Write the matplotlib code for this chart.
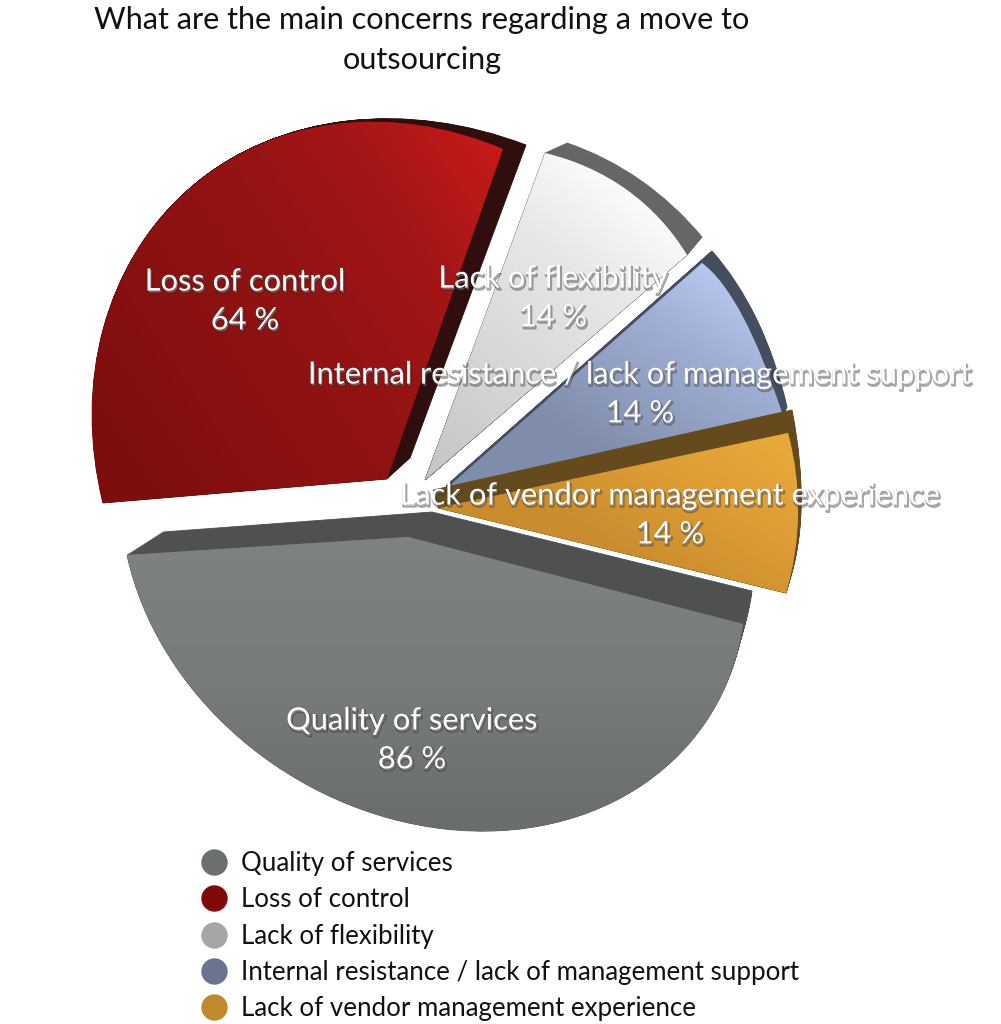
import numpy as np
import matplotlib
matplotlib.use("Agg")
import matplotlib.pyplot as plt
import matplotlib.patheffects as pe
from matplotlib.lines import Line2D
from matplotlib.transforms import Transform
from matplotlib.colors import to_rgb

plt.rcParams['font.family'] = ['Lato', 'DejaVu Sans']

title = "What are the main concerns regarding a move to\noutsourcing"
categories = ["Quality of services", "Loss of control", "Lack of flexibility",
              "Internal resistance / lack of management support",
              "Lack of vendor management experience"]
values = [86, 64, 14, 14, 14]
legend_colors = ['#6b6f6d', '#7f0a08', '#a6a6a6', '#6a7390', '#bf8a2b']
side_colors = ['#4e514f', '#300e0e', '#666666', '#454e5e', '#654a1e']

# layout: apex, arc start, arc middle, arc end in image pixels
face_geo = [
    ((408, 537), (743, 624), (445, 829), (127, 555)),
    ((387, 479), (103, 503), (188, 190), (503, 149)),
    ((425, 480), (545, 153), (627, 190), (687, 255)),
    ((447, 488), (702, 263), (743, 317), (783, 416)),
    ((438, 508), (788, 433), (798, 513), (786, 593)),
]
side_geo = [
    ((432, 512), (752, 591), (465, 800), (163, 532)),
    ((410, 458), (120, 480), (197, 183), (526, 145)),
    ((427, 478), (567, 143), (640, 180), (702, 237)),
    ((446, 486), (712, 251), (757, 320), (787, 407)),
    ((433, 490), (792, 410), (801, 510), (786, 590)),
]
gradients = [
    ((420, 540), (420, 830), ['#7e8381', '#777c7a', '#696d6b']),
    ((100, 420), (510, 150), ['#7e0e0e', '#8a1111', '#931313', '#a51616', '#c81a1a']),
    ((425, 480), (640, 200), ['#c4c4c4', '#d0d0d0', '#dcdcdc', '#e8e8e8', '#fbfbfb']),
    ((590, 450), (710, 265), ['#7f8cab', '#909ec0', '#a0afd4', '#b8c8f0']),
    ((690, 600), (790, 433), ['#c98c2e', '#dd9c35', '#eaab3c']),
]
label_pos = [(412, 740), (245, 301), (553, 298), (640, 394), (670, 515)]

START = -11
fig = plt.figure(figsize=(10.01, 10.24), dpi=100)
ax = fig.add_axes([0, 0, 1, 1])

edges = START - np.concatenate([[0], np.cumsum(values)]) / np.sum(values) * 360


class SliceWarp(Transform):
    """Maps a unit pie wedge: the apex to A, the rim onto an ellipse arc."""
    input_dims = output_dims = 2
    is_affine = False
    has_inverse = False

    def __init__(self, A, C, M):
        super().__init__()
        self.A, self.C, self.M = A, C, M

    def transform_non_affine(self, v):
        v = np.asarray(v, float)
        out = self.C + v @ self.M.T
        out[np.hypot(v[:, 0], v[:, 1]) < 1e-6] = self.A
        return out


def fit(geo, a0, a1):
    apex, p0, pm, p1 = [np.array(p, float) for p in geo]
    ang = np.radians([a0, (a0 + a1) / 2, a1])
    u = np.c_[np.cos(ang), np.sin(ang), np.ones(3)]
    sol = np.linalg.solve(u, np.vstack([p0, pm, p1]))
    return apex, sol[2], sol[:2].T


fits_f = [fit(g, edges[i], edges[i + 1]) for i, g in enumerate(face_geo)]
fits_s = [fit(g, edges[i], edges[i + 1]) for i, g in enumerate(side_geo)]

# extruded side: the pie drawn repeatedly between the back and front positions
for t in np.linspace(0, 1, 24):
    wedges, _ = ax.pie(values, startangle=START, counterclock=False, radius=1,
                       colors=side_colors, wedgeprops=dict(linewidth=0.6))
    for i, w in enumerate(wedges):
        A, C, M = [(1 - t) * s + t * f for s, f in zip(fits_s[i], fits_f[i])]
        w.set_transform(SliceWarp(A, C, M) + ax.transData)
        w.set_edgecolor(side_colors[i])
        w.set_zorder(2 + 2 * i)

faces, _ = ax.pie(values, startangle=START, counterclock=False, radius=1,
                  colors=legend_colors)
for i, w in enumerate(faces):
    warp = SliceWarp(*fits_f[i])
    w.set_transform(warp + ax.transData)
    w.set_zorder(3 + 2 * i)
    pts = warp.transform_non_affine(w.get_path().vertices)
    x0, y0 = pts.min(axis=0) - 2
    x1, y1 = pts.max(axis=0) + 2
    X, Y = np.meshgrid(np.linspace(x0, x1, 200), np.linspace(y0, y1, 200))
    P0, P1, stops = gradients[i]
    dx, dy = P1[0] - P0[0], P1[1] - P0[1]
    T = np.clip(((X - P0[0]) * dx + (Y - P0[1]) * dy) / (dx * dx + dy * dy), 0, 1)
    rgb = np.array([to_rgb(c) for c in stops])
    s = np.linspace(0, 1, len(stops))
    img = np.dstack([np.interp(T, s, rgb[:, k]) for k in range(3)])
    im = ax.imshow(img, extent=(x0, x1, y1, y0), origin='upper', aspect='auto',
                   interpolation='bilinear', zorder=3 + 2 * i)
    im.set_clip_path(w)

ax.set_xlim(0, 1001)
ax.set_ylim(1024, 0)
ax.set_aspect('auto')
ax.axis('off')

shadow = [pe.Stroke(linewidth=1.6, foreground='#202020', alpha=0.4, offset=(0.8, -1.4)),
          pe.Normal()]
for name, v, (x, y) in zip(categories, values, label_pos):
    ax.text(x, y, f"{name}\n{v} %", color='white', fontsize=22.2, ha='center', va='center',
            linespacing=1.47, zorder=50, path_effects=shadow)

ax.text(422, 40, title, color='#111111', fontsize=22.1, ha='center', va='center',
        linespacing=1.5, zorder=50)

handles = [Line2D([], [], linestyle='none', marker='o', markersize=19,
                  markerfacecolor=c, markeredgecolor='none') for c in legend_colors]
leg = ax.legend(handles, categories, loc='upper left', bbox_to_anchor=(200 / 1001, 1 - 851 / 1024),
                frameon=False, fontsize=18.6, labelspacing=0.44, handlelength=1.1,
                handletextpad=0.5, borderpad=0, borderaxespad=0, labelcolor='#111111')
leg.set_zorder(60)

fig.savefig("out.png", dpi=100, facecolor='white')
